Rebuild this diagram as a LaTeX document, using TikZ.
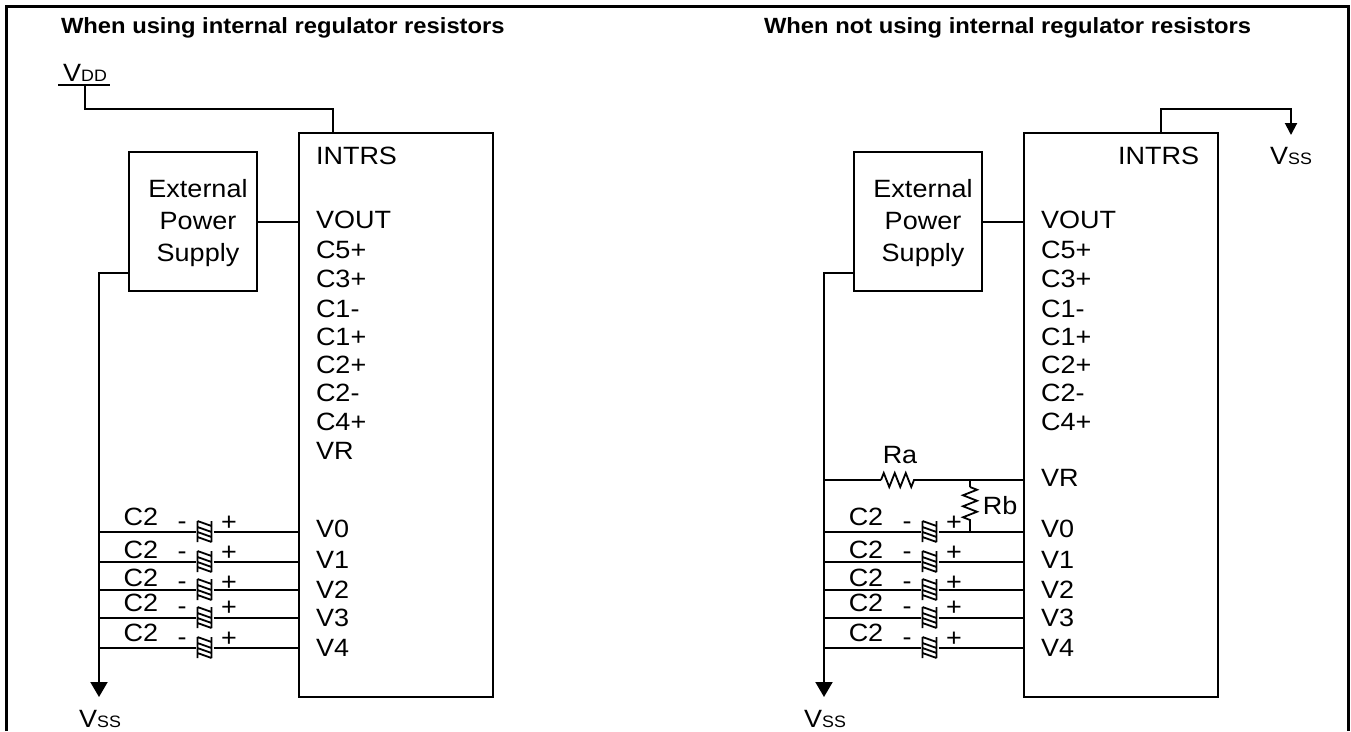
\documentclass[tikz,border=0pt]{standalone}
\usepackage{fontspec}
\setmainfont[FakeStretch=1.08]{Liberation Sans}
\usetikzlibrary{arrows.meta,decorations.pathmorphing}
\newcommand{\subV}[1]{V{\fontsize{16.5}{18}\selectfont #1}}
\begin{document}
\begin{tikzpicture}[x=1pt,y=-1pt,line width=2pt,
    every node/.style={inner sep=0pt,font=\fontsize{25}{30}\selectfont},
    pinlabel/.style={anchor=base west},
    heading/.style={anchor=base west,font=\bfseries\fontsize{22}{26}\selectfont},
    chipbox/.style={draw,minimum width=194pt,minimum height=564pt},
    supplybox/.style={draw,minimum width=128pt,minimum height=139pt},
    capsym/.style={minimum width=16pt,minimum height=24pt,path picture={
        \draw[line width=1.8pt] (path picture bounding box.center) +(-7,-11) -- +(-7,10) +(7,-11) -- +(7,10)
            +(-7,-11) -- +(7,-6) +(-7,-5) -- +(7,0) +(-7,0) -- +(7,5) +(-7,5) -- +(7,10);}},
    resistor/.style={decorate,decoration={zigzag,segment length=11pt,amplitude=7pt},line width=1.8pt},
    vssarrow/.style={-{Triangle[length=15pt,width=17pt]}}]
    \useasboundingbox (0,0) rectangle (1351,731);
    \draw[line width=3pt] (6,731) -- (6,6) -- (1348,6) -- (1348,731);
    \node[heading] (headl) at (60,33) {When using internal regulator resistors};
    \node[heading] (headr) at (763,33) {When not using internal regulator resistors};
    % both panels
    \foreach \p/\x in {l/0,r/725} {
      \begin{scope}[xshift=\x pt]
        \node[chipbox] (chip\p) at (396,415) {};
        \node[supplybox] (supply\p) at (193,221.5) {};
        \node[align=center] (supplytxt\p) at (198,223) {External\\[2pt]Power\\[2pt]Supply};
        \draw (supply\p.east) -- (chip\p.west |- supply\p.east);
        \coordinate (supplyout\p) at (129,273);
        \coordinate (vssend\p) at (99,697);
        \draw[vssarrow] (supplyout\p) -| (vssend\p);
        \node[anchor=base] (vss\p) at (100,727) {\subV{SS}};
        \foreach \n/\t/\y in {vout/VOUT/228,cfive/C5+/258,cthree/C3+/287,coneneg/C1-/317,conepos/C1+/345,
            ctwopos/C2+/373,ctwoneg/C2-/401,cfour/C4+/430} {
          \node[pinlabel] (\n\p) at (315,\y) {\t};
        }
        \foreach \i/\w/\b/\c/\s in {0/532/537/517/523,1/562/568/550/553,2/590/598/578/583,3/618/626/603/608,4/648/656/633/639} {
          \coordinate (bus\i\p) at (99,\w);
          \coordinate (pin\i\p) at (299,\w);
          \node[capsym] (cap\i\p) at (204.5,\w) {};
          \draw (bus\i\p) -- (cap\i\p) -- (pin\i\p);
          \node[pinlabel] (v\i\p) at (315,\b) {V\i};
          \node (ctwo\i\p) at (141,\c) {C2};
          \node[yshift=-3pt] (neg\i\p) at (182,\s) {-};
          \node (pos\i\p) at (229,\s) {+};
        }
      \end{scope}
    }
    % left panel
    \node[pinlabel] (intrsl) at (315,164) {INTRS};
    \node[pinlabel] (vrl) at (315,459) {VR};
    \coordinate (vddl) at (58,85);
    \coordinate (vddr) at (110,85);
    \coordinate (vddm) at (85,85);
    \coordinate (intrstop) at (333,133);
    \draw (vddl) -- (vddr);
    \draw (vddm) |- (333,109) -- (intrstop);
    \node[anchor=base] (vdd) at (85,81) {\subV{DD}};
    % right panel
    \node[pinlabel] (intrsr) at (1117,164) {INTRS};
    \node[pinlabel] (vrr) at (1040,486) {VR};
    \coordinate (intrsout) at (1161,133);
    \coordinate (vsstip) at (1291,135);
    \draw[-{Triangle[length=12pt,width=12pt]}] (intrsout) |- (1291,109) -- (vsstip);
    \node[anchor=base] (vsstop) at (1291,164) {\subV{SS}};
    \coordinate (vrbus) at (824,480);
    \coordinate (vrpin) at (1024,480);
    \coordinate (ra1) at (881,480);
    \coordinate (ra2) at (917,480);
    \coordinate (rbtop) at (970,480);
    \coordinate (rb1) at (970,487);
    \coordinate (rb2) at (970,522);
    \coordinate (rbbot) at (970,532);
    \draw (vrbus) -- (ra1);
    \draw[resistor] (ra1) -- (ra2);
    \draw (ra2) -- (vrpin);
    \draw[line width=1.8pt] (rbtop) -- (rb1);
    \draw[resistor] (rb1) -- (rb2);
    \draw[line width=1.8pt] (rb2) -- (rbbot);
    \node (ralabel) at (900,455) {Ra};
    \node (rblabel) at (1000,506) {Rb};
\end{tikzpicture}
\end{document}
